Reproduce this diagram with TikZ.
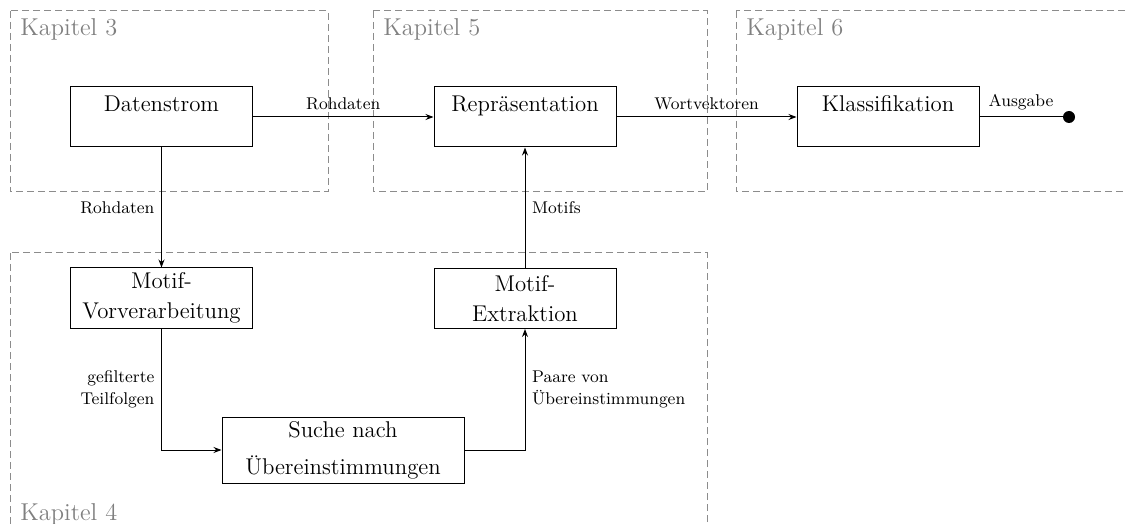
\documentclass[tikz,border=0pt]{standalone}
\usetikzlibrary{arrows.meta}
\begin{document}
\begin{tikzpicture}[x=0.5pt,y=-0.5pt,
  chap/.style={draw=black!45, dash pattern=on 3.5pt off 2pt, line width=0.5pt},
  chaplabel/.style={text=black!50, font=\fontsize{12.2}{14}\selectfont, anchor=base west, inner sep=0pt},
  proc/.style={draw, line width=0.5pt, minimum width=91pt, minimum height=30pt, align=center, font=\fontsize{11.4}{15}\selectfont, inner sep=2pt},
  single/.style={text height=10.5pt, text depth=15.5pt},
  lbl/.style={font=\fontsize{8.5}{11}\selectfont},
  flow/.style={-{Stealth[length=4pt,width=3pt]}, line width=0.5pt}
]
\useasboundingbox (0,0) rectangle (1126,524);
\clip (0,0) rectangle (1126,524);

% chapter frames
\draw[chap] (10,11) rectangle (328,192);
\draw[chap] (373,11) rectangle (707,192);
\draw[chap] (736,11) rectangle (1140,192);
\draw[chap] (10,253) rectangle (707,545);
\node[chaplabel] (k3) at (20,36) {Kapitel 3};
\node[chaplabel] (k5) at (383,36) {Kapitel 5};
\node[chaplabel] (k6) at (746,36) {Kapitel 6};
\node[chaplabel] (k4) at (20,520) {Kapitel 4};

% process boxes
\node[proc,single] (ds) at (161.5,117) {Datenstrom};
\node[proc,single] (rep) at (525,117) {Repräsentation};
\node[proc,single] (kl) at (888,117) {Klassifikation};
\node[proc] (mv) at (161.5,298) {Motif-\\Vorverarbeitung};
\node[proc] (me) at (525,298.5) {Motif-\\Extraktion};
\node[proc, minimum width=121pt, minimum height=33pt] (su) at (343,450) {Suche nach\\[3.5pt]Übereinstimmungen};
\node[circle, fill, inner sep=0pt, minimum size=6pt] (out) at (1069,117) {};

% connectors
\draw[flow] (ds) -- node[lbl,above] {Rohdaten} (rep);
\draw[flow] (rep) -- node[lbl,above] {Wortvektoren} (kl);
\draw[line width=0.5pt] (kl) -- node[lbl,above] {Ausgabe} (out);
\draw[flow] (ds) -- node[lbl,left] {Rohdaten} (mv);
\draw[flow] (mv) |- node[lbl,left,align=right,pos=0.25] {gefilterte\\Teilfolgen} (su);
\draw[flow] (su) -| node[lbl,right,align=left,pos=0.75] {Paare von\\Übereinstimmungen} (me);
\draw[flow] (me) -- node[lbl,right] {Motifs} (rep);
\end{tikzpicture}
\end{document}
